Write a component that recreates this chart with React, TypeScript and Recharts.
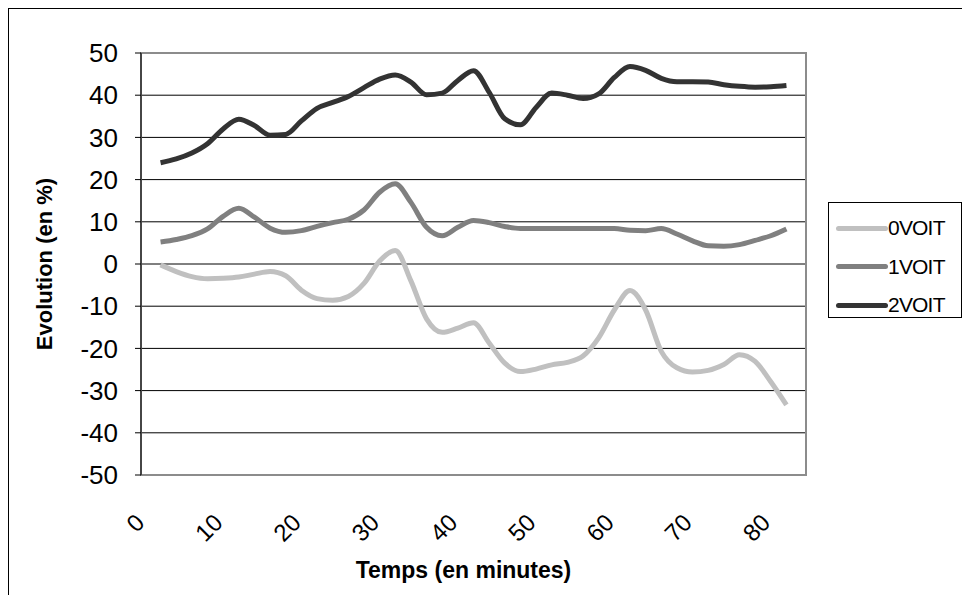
import { LineChart, Line, XAxis, YAxis, CartesianGrid, ReferenceArea, Legend, Label } from 'recharts';

const minutes = [2, 4, 6, 8, 10, 12, 14, 16, 18, 20, 22, 24, 26, 28, 30, 32, 34, 36, 38, 40, 42, 44, 46, 48, 50, 52, 54, 56, 58, 60, 62, 64, 66, 68, 70, 72, 74, 76, 78, 80, 82];
const voit0 = [-0.2, -1.8, -3.0, -3.5, -3.4, -3.1, -2.4, -1.8, -2.8, -6.2, -8.2, -8.6, -7.7, -4.6, 0.7, 3.2, -4.0, -13.0, -16.2, -15.2, -13.9, -18.7, -23.5, -25.5, -24.9, -23.9, -23.3, -21.8, -17.5, -10.9, -6.3, -10.9, -20.7, -24.6, -25.6, -25.2, -23.8, -21.5, -23.1, -27.9, -33.4];
const voit1 = [5.2, 5.8, 6.7, 8.3, 11.3, 13.2, 11.1, 8.5, 7.5, 7.9, 8.9, 9.8, 10.6, 12.8, 17.0, 19.0, 14.6, 8.7, 6.7, 8.7, 10.3, 9.8, 8.9, 8.4, 8.4, 8.4, 8.4, 8.4, 8.4, 8.4, 8.0, 7.9, 8.4, 7.1, 5.5, 4.3, 4.2, 4.6, 5.6, 6.7, 8.3];
const voit2 = [24.0, 24.9, 26.3, 28.5, 32.0, 34.3, 32.8, 30.5, 30.7, 33.9, 36.9, 38.3, 39.7, 41.8, 43.8, 44.8, 43.1, 40.1, 40.5, 43.5, 45.8, 40.7, 34.4, 33.0, 37.1, 40.5, 40.0, 39.2, 40.3, 44.2, 46.8, 45.9, 44.0, 43.2, 43.2, 43.1, 42.5, 42.1, 41.9, 42.0, 42.3];

const xTicks = [0, 10, 20, 30, 40, 50, 60, 70, 80];
const yTicks = [-50, -40, -30, -20, -10, 0, 10, 20, 30, 40, 50];

const series = [
  { key: 'voit0', name: '0VOIT', color: '#C0C0C0' },
  { key: 'voit1', name: '1VOIT', color: '#808080' },
  { key: 'voit2', name: '2VOIT', color: '#333333' },
];

const data = minutes.map((m, i) => ({
  minute: m,
  voit0: voit0[i],
  voit1: voit1[i],
  voit2: voit2[i],
}));

const FONT = '"Liberation Sans", Arial, sans-serif';

function XTick({ x, y, payload }: any) {
  return (
    <g transform={`translate(${x},${y})`}>
      <text
        transform="translate(1,41) rotate(-45)"
        textAnchor="end"
        fontSize={24}
        fill="#000"
        fontFamily={FONT}
      >
        {payload.value}
      </text>
    </g>
  );
}

function LegendBox() {
  return (
    <div
      style={{
        border: '1px solid #000',
        width: 134,
        height: 116,
        boxSizing: 'border-box',
        paddingTop: 6,
        fontFamily: FONT,
      }}
    >
      {series.map((s) => (
        <div key={s.key} style={{ display: 'flex', alignItems: 'center', height: 38.5 }}>
          <span
            style={{
              display: 'inline-block',
              width: 52,
              height: 5,
              marginLeft: 7,
              background: s.color,
              borderRadius: 3,
            }}
          />
          <span style={{ fontSize: 21, color: '#000', letterSpacing: -0.8 }}>{s.name}</span>
        </div>
      ))}
    </div>
  );
}

export default function App() {
  return (
    <div
      style={{
        position: 'relative',
        width: 962,
        height: 587,
        borderTop: '1px solid #000',
        borderLeft: '1px solid #000',
        fontFamily: FONT,
      }}
    >
      <LineChart
        width={961}
        height={586}
        data={data}
        margin={{ top: 44, right: 164, bottom: 26, left: 0 }}
      >
        <CartesianGrid horizontal vertical={false} stroke="#000" strokeWidth={1} />
        <ReferenceArea
          x1={-0.5}
          x2={84.5}
          y1={-50}
          y2={50}
          fill="none"
          stroke="#8c8c8c"
          strokeWidth={2}
          ifOverflow="visible"
        />
        <XAxis
          dataKey="minute"
          type="number"
          domain={[-0.5, 84.5]}
          ticks={xTicks}
          interval={0}
          allowDataOverflow
          tickLine={false}
          axisLine={{ stroke: '#8c8c8c', strokeWidth: 2 }}
          height={94}
          tick={<XTick />}
        >
          <Label
            value="Temps (en minutes)"
            position="insideBottom"
            offset={-9}
            dx={-10}
            fontSize={23}
            fontWeight="bold"
            fill="#000"
            fontFamily={FONT}
          />
        </XAxis>
        <YAxis
          type="number"
          domain={[-50, 50]}
          ticks={yTicks}
          interval={0}
          width={132}
          tickSize={6}
          tickMargin={17}
          axisLine={{ stroke: '#000' }}
          tickLine={{ stroke: '#000' }}
          tick={{ fontSize: 26, fill: '#000', fontFamily: FONT }}
        >
          <Label
            value="Evolution (en %)"
            angle={-90}
            position="insideLeft"
            offset={35}
            fontSize={22}
            fontWeight="bold"
            fill="#000"
            fontFamily={FONT}
            style={{ textAnchor: 'middle' }}
          />
        </YAxis>
        <Legend
          layout="horizontal"
          verticalAlign="middle"
          align="center"
          wrapperStyle={{ position: 'absolute', left: 819, top: 193, width: 134, height: 116 }}
          content={() => <LegendBox />}
        />
        {series.map((s) => (
          <Line
            key={s.key}
            type="monotone"
            dataKey={s.key}
            name={s.name}
            stroke={s.color}
            strokeWidth={5}
            strokeLinejoin="round"
            dot={false}
            activeDot={false}
            isAnimationActive={false}
          />
        ))}
      </LineChart>
    </div>
  );
}
